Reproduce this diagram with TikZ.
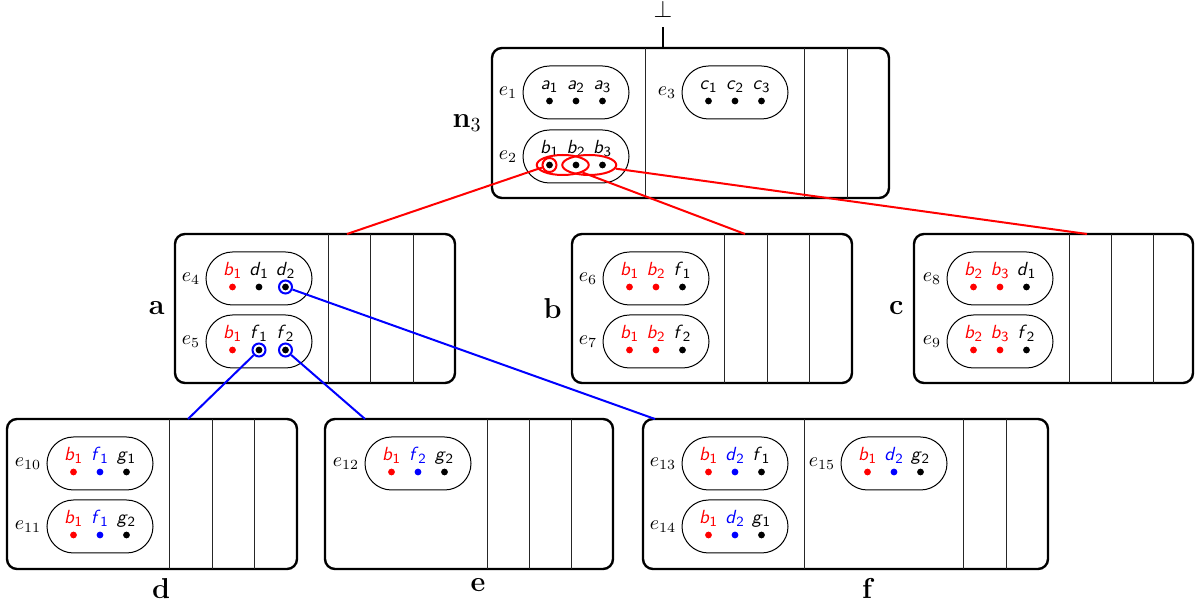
\documentclass[tikz,border=0pt]{standalone}
\usetikzlibrary{shapes.misc,shapes.geometric,calc}
\newcommand\Lt[2]{\textit{#1}\ensuremath{_{\mathsf{#2}}}}
\newcommand\Trio[7]{%
 \node[dot, fill=#2] (#1d1) at ([xshift=-13.25pt,yshift=-4.25pt]#1.center) {};
 \node[dot, fill=#4] (#1d2) at ([yshift=-4.25pt]#1.center) {};
 \node[dot, fill=#6] (#1d3) at ([xshift=13.25pt,yshift=-4.25pt]#1.center) {};
 \node[lett, text=#2] (#1t1) at ([xshift=-13.25pt,yshift=1.5pt]#1.center) {#3};
 \node[lett, text=#4] (#1t2) at ([yshift=1.5pt]#1.center) {#5};
 \node[lett, text=#6] (#1t3) at ([xshift=13.25pt,yshift=1.5pt]#1.center) {#7};
}
\newcommand\Pill[3]{%
 \node[pill] (#1) at (#2) {};
 \node[elab] (#1l) at (#1.west) {$e_{#3}$};
}
\begin{document}
\begin{tikzpicture}[x=0.5pt,y=-0.5pt,
  box/.style={draw, line width=1.2pt, rounded corners=5pt, inner sep=0pt, outer sep=0pt},
  sep/.style={line width=0.5pt, black!85},
  pill/.style={draw, rounded rectangle, line width=0.5pt, minimum width=53pt, minimum height=26.5pt, inner sep=0pt},
  dot/.style={circle, inner sep=0pt, minimum size=3.4pt},
  lett/.style={anchor=base, inner sep=0pt, font=\fontsize{9.5}{11}\selectfont\sffamily},
  elab/.style={anchor=east, inner sep=2.5pt, font=\fontsize{10}{12}\selectfont},
  blab/.style={font=\Large\bfseries, inner sep=5pt},
  blabb/.style={font=\Large\bfseries, inner sep=4.5pt, anchor=north},
  rring/.style={draw=red, line width=1pt, circle, inner sep=0pt, minimum size=7pt},
  rell/.style={draw=red, line width=1pt, ellipse, inner sep=0pt, minimum width=26pt, minimum height=10pt},
  bring/.style={draw=blue, line width=1pt, circle, inner sep=0pt, minimum size=6.5pt},
  rline/.style={draw=red, line width=1pt},
  bline/.style={draw=blue, line width=1pt},
  rootline/.style={line width=1.2pt}]
\useasboundingbox (0,0) rectangle (1195,603);

% boxes
\node[box, minimum width=198.5pt, minimum height=75pt] (n3) at (690.5,123) {};
\node[box, minimum width=140pt, minimum height=74.5pt] (a) at (315,308.5) {};
\node[box, minimum width=140pt, minimum height=74.5pt] (b) at (712,308.5) {};
\node[box, minimum width=139.5pt, minimum height=74.5pt] (c) at (1053.5,308.5) {};
\node[box, minimum width=145pt, minimum height=75pt] (d) at (152,494) {};
\node[box, minimum width=144pt, minimum height=75pt] (e) at (469,494) {};
\node[box, minimum width=202.5pt, minimum height=75pt] (f) at (845.5,494) {};

\foreach \s in {76.5,156,177.5} \draw[sep] ([xshift=\s pt]n3.north west) -- ([xshift=\s pt]n3.south west);
\foreach \s in {76.5,97.5,119} \draw[sep] ([xshift=\s pt]a.north west) -- ([xshift=\s pt]a.south west);
\foreach \s in {76,97.5,118.5} \draw[sep] ([xshift=\s pt]b.north west) -- ([xshift=\s pt]b.south west);
\foreach \s in {77.5,98.5,119.5} \draw[sep] ([xshift=\s pt]c.north west) -- ([xshift=\s pt]c.south west);
\foreach \s in {81,102.5,123.5} \draw[sep] ([xshift=\s pt]d.north west) -- ([xshift=\s pt]d.south west);
\foreach \s in {81,102,123} \draw[sep] ([xshift=\s pt]e.north west) -- ([xshift=\s pt]e.south west);
\foreach \s in {80.5,160,181.5} \draw[sep] ([xshift=\s pt]f.north west) -- ([xshift=\s pt]f.south west);

% box labels
\node[blab, anchor=east] (n3l) at (n3.west) {n$_3$};
\node[blab, anchor=east] (al) at (a.west) {a};
\node[blab, anchor=east] (bl) at (b.west) {b};
\node[blab, anchor=east] (cl) at (c.west) {c};
\node[blabb] (dl) at (161,569) {d};
\node[blabb] (el) at (478,569) {e};
\node[blabb] (fl) at (867,569) {f};

% root
\node[font=\large, anchor=base, inner sep=0pt] (root) at (663,18) {$\bot$};
\coordinate (n3top) at (663,48);
\draw[rootline, shorten <=4.5pt] (root.south) -- (n3top);

% pills
\Pill{e1}{576,92.5}{1}
\Pill{e2}{576,156.5}{2}
\Pill{e3}{735,92.5}{3}
\Pill{e4}{259,278.5}{4}
\Pill{e5}{259,341.5}{5}
\Pill{e6}{656,278.5}{6}
\Pill{e7}{656,341.5}{7}
\Pill{e8}{1000,278.5}{8}
\Pill{e9}{1000,341.5}{9}
\Pill{e10}{100,463.5}{10}
\Pill{e11}{100,526.5}{11}
\Pill{e12}{418,463.5}{12}
\Pill{e13}{735,463.5}{13}
\Pill{e14}{735,526.5}{14}
\Pill{e15}{894,463.5}{15}

\Trio{e1}{black}{\Lt{a}{1}}{black}{\Lt{a}{2}}{black}{\Lt{a}{3}}
\Trio{e2}{black}{\Lt{b}{1}}{black}{\Lt{b}{2}}{black}{\Lt{b}{3}}
\Trio{e3}{black}{\Lt{c}{1}}{black}{\Lt{c}{2}}{black}{\Lt{c}{3}}
\Trio{e4}{red}{\Lt{b}{1}}{black}{\Lt{d}{1}}{black}{\Lt{d}{2}}
\Trio{e5}{red}{\Lt{b}{1}}{black}{\Lt{f}{1}}{black}{\Lt{f}{2}}
\Trio{e6}{red}{\Lt{b}{1}}{red}{\Lt{b}{2}}{black}{\Lt{f}{1}}
\Trio{e7}{red}{\Lt{b}{1}}{red}{\Lt{b}{2}}{black}{\Lt{f}{2}}
\Trio{e8}{red}{\Lt{b}{2}}{red}{\Lt{b}{3}}{black}{\Lt{d}{1}}
\Trio{e9}{red}{\Lt{b}{2}}{red}{\Lt{b}{3}}{black}{\Lt{f}{2}}
\Trio{e10}{red}{\Lt{b}{1}}{blue}{\Lt{f}{1}}{black}{\Lt{g}{1}}
\Trio{e11}{red}{\Lt{b}{1}}{blue}{\Lt{f}{1}}{black}{\Lt{g}{2}}
\Trio{e12}{red}{\Lt{b}{1}}{blue}{\Lt{f}{2}}{black}{\Lt{g}{2}}
\Trio{e13}{red}{\Lt{b}{1}}{blue}{\Lt{d}{2}}{black}{\Lt{f}{1}}
\Trio{e14}{red}{\Lt{b}{1}}{blue}{\Lt{d}{2}}{black}{\Lt{g}{1}}
\Trio{e15}{red}{\Lt{b}{1}}{blue}{\Lt{d}{2}}{black}{\Lt{g}{2}}

% red selections in n3
\node[rring] (rA) at (e2d1) {};
\node[rell] (rB) at ($(e2d1)!0.5!(e2d2)$) {};
\node[rell, minimum width=27pt] (rC) at ($(e2d2)!0.5!(e2d3)$) {};
\coordinate (ta) at (347,234);
\coordinate (tb) at (745,234);
\coordinate (tc) at (1087,234);
\draw[rline] (rA) -- (ta);
\draw[rline] (rB) -- (tb);
\draw[rline] (rC) -- (tc);

% blue selections in a
\node[bring] (rD2) at (e4d3) {};
\node[bring] (rF1) at (e5d2) {};
\node[bring] (rF2) at (e5d3) {};
\coordinate (td) at (188,419);
\coordinate (te) at (365,419);
\coordinate (tf) at (655,419);
\draw[bline] (rD2) -- (tf);
\draw[bline] (rF1) -- (td);
\draw[bline] (rF2) -- (te);
\end{tikzpicture}
\end{document}
